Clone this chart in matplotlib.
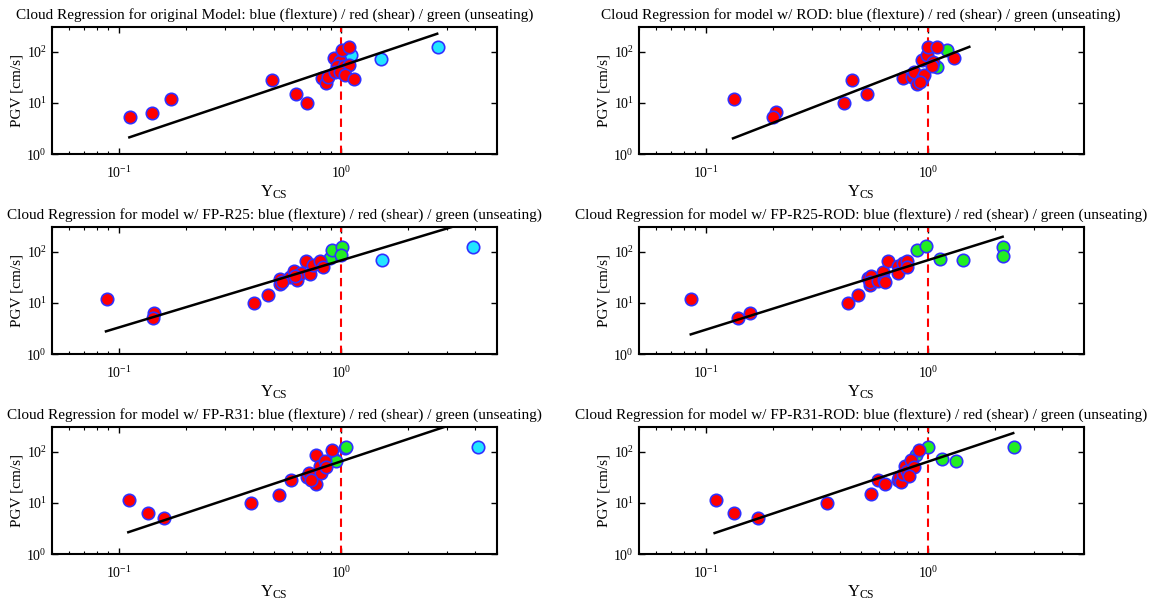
import numpy as np
import matplotlib
matplotlib.use('Agg')
import matplotlib.pyplot as plt
from matplotlib.ticker import FuncFormatter, LogLocator, NullLocator

plt.rcParams['font.family'] = ['Liberation Serif', 'DejaVu Serif']
plt.rcParams['mathtext.fontset'] = 'custom'
plt.rcParams['mathtext.rm'] = 'Liberation Serif'
plt.rcParams['mathtext.it'] = 'Liberation Serif:italic'

# mode codes: 'f' flexure (cyan), 's' shear (red), 'u' unseating (green)
orig_ycs = [0.113, 0.141, 0.171, 0.491, 0.625, 0.705, 0.819, 0.857, 0.87, 0.924,
            0.983, 1.007, 1.079, 0.956, 1.031, 1.086, 0.934, 0.99, 1.04, 1.143,
            1.108, 1.51, 2.71]
orig_pgv = [5.3, 6.4, 11.7, 28.2, 14.8, 10.1, 30.8, 24.3, 31.8, 74,
            67, 108, 125, 53, 53, 55, 41, 40, 35, 29.5,
            87, 71, 125]
orig_mode = ['s'] * 20 + ['f'] * 3

rod_ycs = [0.134, 0.206, 0.2, 0.419, 0.455, 0.53, 0.774, 0.848, 0.866, 0.889,
           0.933, 0.953, 0.94, 0.983, 0.993, 1.094, 1.046, 1.039, 1.30, 0.92,
           1.094, 1.22]
rod_pgv = [11.7, 6.6, 5.4, 10.1, 28.6, 15.1, 30.8, 32.7, 39.8, 23.9,
           29.4, 35.2, 69, 86, 125, 125, 64, 53.5, 74, 26,
           51, 109]
rod_mode = ['u'] * 0 + ['s'] * 20 + ['u'] * 2

r25_ycs = [0.0883, 0.1435, 0.142, 0.405, 0.47, 0.53, 0.533, 0.587, 0.612, 0.634,
           0.66, 0.695, 0.726, 0.747, 0.8, 0.828, 0.62, 0.54,
           0.893, 0.908, 1.007, 1.0, 1.52, 3.9]
r25_pgv = [11.9, 6.3, 5.0, 10.2, 14.6, 29.5, 23.6, 31.9, 41.5, 28.6,
           38, 67, 36.8, 55, 67, 51, 33, 26,
           74, 108, 125, 87, 69, 121]
r25_mode = ['s'] * 18 + ['u'] * 4 + ['f'] * 2

r25rod_ycs = [0.0862, 0.139, 0.159, 0.434, 0.484, 0.539, 0.546, 0.552, 0.546, 0.596,
              0.628, 0.634, 0.638, 0.661, 0.728, 0.728, 0.774, 0.802, 0.802,
              0.889, 0.976, 1.128, 1.437, 2.16, 2.16]
r25rod_pgv = [11.9, 5.15, 6.35, 10.1, 14.6, 30.4, 22.9, 34.2, 26, 27.3,
              41, 28.6, 25.4, 67, 53.5, 38.5, 59, 67, 51,
              109, 127, 72, 69, 121, 84]
r25rod_mode = ['s'] * 19 + ['u'] * 6

r31_ycs = [0.111, 0.136, 0.16, 0.395, 0.523, 0.593, 0.702, 0.714, 0.773, 0.773,
           0.805, 0.814, 0.848, 0.857, 0.908, 0.73,
           0.924, 1.04, 4.14, 0.95, 1.049]
r31_pgv = [11.7, 6.4, 5.15, 9.9, 14.6, 28.2, 31.8, 38.5, 23.6, 86,
           53.5, 38.5, 67, 51, 108, 28,
           72, 118, 125, 67, 121]
r31_mode = ['s'] * 16 + ['f'] * 3 + ['u'] * 2

r31rod_ycs = [0.111, 0.1336, 0.172, 0.35, 0.552, 0.592, 0.638, 0.728, 0.741, 0.754,
              0.774, 0.785, 0.807, 0.836, 0.859, 0.911, 0.82,
              0.88, 0.993, 1.148, 1.332, 2.42]
r31rod_pgv = [11.5, 6.35, 5.15, 9.9, 14.9, 28.2, 23.2, 28.6, 31.8, 26.1,
              36.8, 53.5, 41.5, 70, 51, 109, 33,
              86, 121, 72, 67, 121]
r31rod_mode = ['s'] * 17 + ['u'] * 5

# cloud regression ln-fit: log10(PGV) = a + b*log10(Ycs)
fit_a = [1.72, 1.784, 1.831, 1.837, 1.813, 1.808]
fit_b = [1.46, 1.68, 1.309, 1.358, 1.445, 1.452]
fit_lo = [0.1117, 0.1327, 0.0877, 0.0857, 0.1105, 0.1097]
fit_hi = [2.70, 1.53, 3.9, 2.16, 4.14, 2.41]

names = ['original Model', 'model w/ ROD', 'model w/ FP-R25', 'model w/ FP-R25-ROD',
         'model w/ FP-R31', 'model w/ FP-R31-ROD']
panels = [(orig_ycs, orig_pgv, orig_mode), (rod_ycs, rod_pgv, rod_mode),
          (r25_ycs, r25_pgv, r25_mode), (r25rod_ycs, r25rod_pgv, r25rod_mode),
          (r31_ycs, r31_pgv, r31_mode), (r31rod_ycs, r31rod_pgv, r31rod_mode)]

colors = {'f': '#22e5ff', 'u': '#22ee22', 's': '#ff0000'}

fig = plt.figure(figsize=(11.56, 6.05), dpi=100)
lefts = [0.0447, 0.5525]
width = 0.385
bottoms = [0.745, 0.4144, 0.0838]
height = 0.21


def fmt(v, pos):
    return r'$\mathregular{10^{%d}}$' % int(round(np.log10(v)))


for i, (ycs, pgv, mode) in enumerate(panels):
    ax = fig.add_axes([lefts[i % 2], bottoms[i // 2], width, height])
    ycs = np.array(ycs)
    pgv = np.array(pgv)
    mode = np.array(mode)
    for m in ['f', 'u', 's']:
        sel = mode == m
        ax.scatter(ycs[sel], pgv[sel], s=80, c=colors[m], edgecolors='#3030ff',
                   linewidths=1.2, zorder=3)
    xx = np.array([fit_lo[i], fit_hi[i]])
    ax.plot(xx, 10 ** (fit_a[i] + fit_b[i] * np.log10(xx)), color='black', lw=1.8, zorder=4)
    ax.axvline(1.0, color='red', ls=(0, (4, 2.5)), lw=1.5, zorder=2)
    ax.set_xscale('log')
    ax.set_yscale('log')
    ax.set_xlim(0.05, 5)
    ax.set_ylim(1, 300)
    ax.xaxis.set_major_locator(LogLocator(base=10))
    ax.xaxis.set_minor_locator(LogLocator(base=10, subs=np.arange(2, 10)))
    ax.yaxis.set_major_locator(LogLocator(base=10))
    ax.yaxis.set_minor_locator(NullLocator())
    ax.xaxis.set_major_formatter(FuncFormatter(fmt))
    ax.yaxis.set_major_formatter(FuncFormatter(fmt))
    ax.tick_params(which='both', direction='in', top=True, right=True, labelsize=10)
    ax.tick_params(which='major', length=4, width=1)
    ax.tick_params(which='minor', length=2.5, width=0.8)
    ax.tick_params(axis='x', pad=8)
    for sp in ax.spines.values():
        sp.set_linewidth(1.5)
    ax.set_title('Cloud Regression for %s: blue (flexture) / red (shear) / green (unseating)'
                 % names[i], fontsize=11, pad=6)
    ax.set_xlabel(r'$\mathregular{Y_{CS}}$', fontsize=12, labelpad=2)
    ax.set_ylabel('PGV [cm/s]', fontsize=11, labelpad=2)

fig.savefig('out.png', dpi=100)
